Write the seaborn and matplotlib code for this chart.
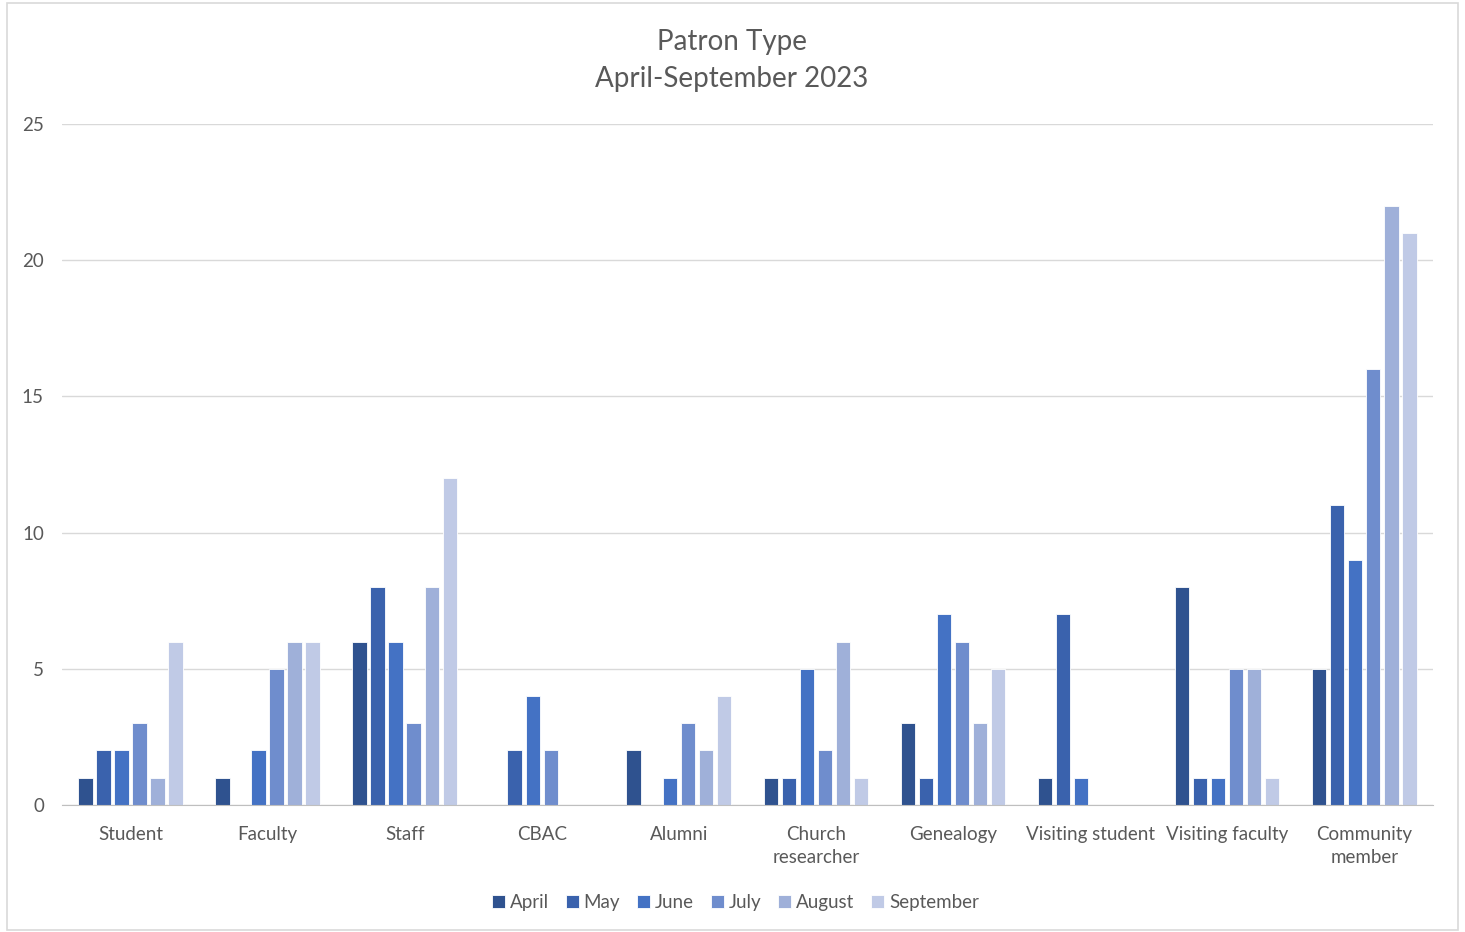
import pandas as pd
import seaborn as sns
import matplotlib.pyplot as plt
from matplotlib.patches import Rectangle

# Patron counts per month
categories = ["Student", "Faculty", "Staff", "CBAC", "Alumni", "Church\nresearcher",
              "Genealogy", "Visiting student", "Visiting faculty", "Community\nmember"]
months = ["April", "May", "June", "July", "August", "September"]

april = [1, 1, 6, 0, 2, 1, 3, 1, 8, 5]
may = [2, 0, 8, 2, 0, 1, 1, 7, 1, 11]
june = [2, 2, 6, 4, 1, 5, 7, 1, 1, 9]
july = [3, 5, 3, 2, 3, 2, 6, 0, 5, 16]
august = [1, 6, 8, 0, 2, 6, 3, 0, 5, 22]
september = [6, 6, 12, 0, 4, 1, 5, 0, 1, 21]

colors = ["#2F528F", "#3A62AD", "#4472C4", "#6F8DCD", "#9FB0D9", "#C0CAE6"]

rows = []
for m, vals in zip(months, [april, may, june, july, august, september]):
    for c, v in zip(categories, vals):
        rows.append({"Category": c, "Month": m, "Count": v})
df = pd.DataFrame(rows)

sns.set_style("white")
plt.rcParams["font.family"] = ["Lato", "DejaVu Sans"]
text_color = "#595959"

fig = plt.figure(figsize=(14.65, 9.32), dpi=100)
ax = fig.add_axes([0.0423, 0.1363, 0.9357, 0.7307])

sns.barplot(data=df, x="Category", y="Count", hue="Month", hue_order=months,
            order=categories, palette=colors, saturation=1, width=0.79, gap=0.2,
            edgecolor="white", linewidth=0.6, ax=ax)

ax.set_ylim(0, 25)
ax.set_xlim(-0.5, len(categories) - 0.5)
ax.set_yticks([0, 5, 10, 15, 20, 25])
ax.yaxis.grid(True, color="#D9D9D9", linewidth=1)
ax.set_axisbelow(True)
for s in ["top", "right", "left"]:
    ax.spines[s].set_visible(False)
ax.spines["bottom"].set_color("#BFBFBF")
ax.set_xlabel("")
ax.set_ylabel("")
ax.tick_params(axis="both", length=0, labelsize=13.5, colors=text_color)
ax.tick_params(axis="y", pad=13)
ax.tick_params(axis="x", pad=15)
for lab in ax.get_xticklabels():
    lab.set_linespacing(1.45)

# title centred on the whole figure, like the original
fig.text(0.4995, 0.969, "Patron Type\nApril-September 2023", fontsize=20,
         color=text_color, ha="center", va="top", linespacing=1.55)

handles, labels = ax.get_legend_handles_labels()
fig.legend(handles, labels, loc="upper center", bbox_to_anchor=(0.502, 0.0585),
           bbox_transform=fig.transFigure, ncol=6, frameon=False, fontsize=13.5,
           handlelength=0.7, handleheight=0.7, handletextpad=0.25,
           columnspacing=0.9, labelcolor=text_color)
ax.get_legend().remove()

# light frame around the chart area
fig.patches.append(Rectangle((0.005, 0.002), 0.99, 0.995, transform=fig.transFigure,
                             fill=False, edgecolor="#D9D9D9", linewidth=1.2))

fig.savefig("out.png", dpi=100)
